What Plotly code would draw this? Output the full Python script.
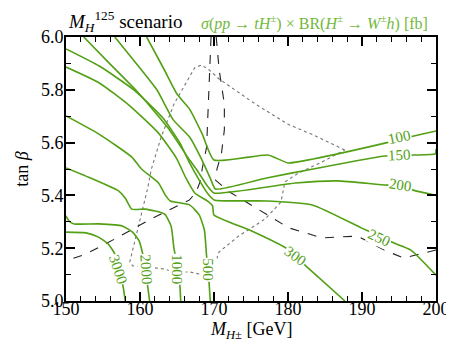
import plotly.graph_objects as go

GREEN = "#52a014"
LIGHT_GREEN = "#72b83a"
SERIF = "Liberation Serif"

# contour lines of sigma x BR [fb]
c100_x = [160.9, 163.3, 165.0, 166.7, 168.4, 170.0, 177.3, 180.0, 183.4, 193.1, 197.0, 200.0]
c100_y = [6.0, 5.875, 5.784, 5.727, 5.633, 5.534, 5.553, 5.523, 5.538, 5.598, 5.625, 5.644]

c150_x = [156.6, 160.2, 162.3, 164.5, 166.7, 168.7, 169.6, 170.2, 177.1, 183.4, 193.1, 197.0, 199.9, 200.0]
c150_y = [6.0, 5.875, 5.799, 5.686, 5.621, 5.515, 5.458, 5.424, 5.466, 5.500, 5.549, 5.553, 5.557, 5.576]

c200_x = [152.4, 155.8, 159.8, 163.8, 166.7, 167.6, 169.1, 170.0, 181.0, 186.7, 193.4, 195.2, 196.9, 200.0]
c200_y = [6.0, 5.902, 5.788, 5.655, 5.534, 5.5, 5.436, 5.409, 5.447, 5.455, 5.439, 5.439, 5.420, 5.40]

c250_x = [150.0, 154.5, 159.2, 163.1, 165.4, 166.7, 168.0, 169.2, 170.0, 177.1, 183.3, 189.9, 192.3, 194.3, 196.6, 200.0]
c250_y = [5.955, 5.89, 5.799, 5.693, 5.598, 5.523, 5.458, 5.405, 5.383, 5.379, 5.364, 5.277, 5.246, 5.220, 5.193, 5.098]

c300_x = [150.0, 154.5, 158.5, 162.5, 164.9, 166.2, 167.4, 169.1, 169.8, 170.0, 174.8, 179.7, 182.4, 187.7]
c300_y = [5.886, 5.826, 5.742, 5.636, 5.542, 5.466, 5.409, 5.379, 5.360, 5.326, 5.269, 5.201, 5.133, 5.0]

c500_x = [150.0, 154.4, 158.9, 160.2, 162.5, 163.4, 164.1, 166.7, 168.0, 168.7, 169.0, 169.2, 169.5]
c500_y = [5.701, 5.633, 5.545, 5.5, 5.447, 5.402, 5.379, 5.364, 5.326, 5.269, 5.170, 5.121, 5.0]

c1000_x = [150.0, 152.7, 157.1, 158.0, 158.9, 160.7, 163.3, 164.2, 164.6, 165.3, 165.5]
c1000_y = [5.504, 5.473, 5.417, 5.390, 5.348, 5.348, 5.330, 5.284, 5.197, 5.095, 5.0]

c2000_x = [150.0, 150.4, 151.1, 154.4, 157.6, 159.0, 159.9, 160.3, 160.8, 161.0, 161.3]
c2000_y = [5.322, 5.303, 5.292, 5.292, 5.284, 5.261, 5.227, 5.186, 5.12, 5.064, 5.0]

c3000_x = [150.0, 152.7, 154.4, 155.7, 156.6, 157.0, 157.7, 158.0]
c3000_y = [5.261, 5.258, 5.242, 5.216, 5.178, 5.12, 5.057, 5.0]

# dashed black lines
dashA_x = [169.6, 169.4, 169.1, 169.0, 168.4, 168.2, 167.6, 166.7, 161.5, 156.6, 152.7, 150.0]
dashA_y = [6.0, 5.875, 5.686, 5.583, 5.5, 5.458, 5.413, 5.383, 5.311, 5.235, 5.178, 5.152]

dashB_x = [170.3, 170.7, 171.4, 171.4, 171.0, 170.4, 170.2, 172.1, 175.7, 180.1, 184.6, 189.4, 193.0, 195.6, 200.0]
dashB_y = [6.0, 5.875, 5.746, 5.648, 5.557, 5.5, 5.458, 5.413, 5.352, 5.277, 5.239, 5.246, 5.193, 5.163, 5.193]

# dotted grey region
dot_x = [187.67, 183.42, 179.97, 175.60, 170.69, 169.36, 168.30, 167.37, 166.45, 164.59, 162.86,
         161.54, 161.01, 160.34, 159.68, 159.02, 158.62, 159.02, 161.01, 163.26, 164.59, 166.71,
         168.70, 169.63, 170.03, 170.69, 173.34, 176.92, 179.05, 179.58, 181.43, 184.35, 187.67]
dot_y = [5.572, 5.629, 5.670, 5.746, 5.841, 5.875, 5.894, 5.883, 5.837, 5.746, 5.621,
         5.5, 5.424, 5.348, 5.273, 5.197, 5.148, 5.133, 5.129, 5.121, 5.110, 5.110,
         5.098, 5.110, 5.133, 5.186, 5.246, 5.311, 5.375, 5.451, 5.485, 5.523, 5.572]

# inline contour labels
label_text = ["100", "150", "200", "250", "300", "500", "1000", "2000", "3000"]
label_x = [195.1, 195.1, 195.2, 192.4, 181.0, 169.2, 165.0, 160.8, 157.0]
label_y = [5.62, 5.553, 5.44, 5.24, 5.17, 5.12, 5.12, 5.12, 5.12]
label_angle = [-12, -3, 8, 25, 35, 90, 90, 86, 72]

contours = [
    (c100_x, c100_y), (c150_x, c150_y), (c200_x, c200_y), (c250_x, c250_y),
    (c300_x, c300_y), (c500_x, c500_y), (c1000_x, c1000_y), (c2000_x, c2000_y),
    (c3000_x, c3000_y),
]

fig = go.Figure()

fig.add_trace(go.Scatter(x=dot_x, y=dot_y, mode="lines",
                         line=dict(color="#777777", width=1.1, dash="dot"),
                         hoverinfo="skip", showlegend=False))
for xs, ys in [(dashA_x, dashA_y), (dashB_x, dashB_y)]:
    fig.add_trace(go.Scatter(x=xs, y=ys, mode="lines",
                             line=dict(color="#222222", width=1.1, dash="dash"),
                             hoverinfo="skip", showlegend=False))
for xs, ys in contours:
    fig.add_trace(go.Scatter(x=xs, y=ys, mode="lines",
                             line=dict(color=GREEN, width=1.6, shape="spline", smoothing=0.5),
                             hoverinfo="skip", showlegend=False))

for t, x, y, a in zip(label_text, label_x, label_y, label_angle):
    fig.add_annotation(x=x, y=y, text=t, showarrow=False, textangle=a,
                       bgcolor="white", borderpad=0,
                       font=dict(family=SERIF, size=15, color=GREEN))

fig.add_annotation(xref="paper", yref="paper", x=0.0, y=1.06, xanchor="left", yanchor="middle",
                   text="<i>M</i><sub><i>H</i></sub><sup>125</sup> scenario", showarrow=False,
                   font=dict(family=SERIF, size=19, color="black"))
fig.add_annotation(xref="paper", yref="paper", x=0.985, y=1.055, xanchor="right", yanchor="middle",
                   text="<i>σ</i>(<i>pp</i> → <i>tH</i><sup>±</sup>) × BR(<i>H</i><sup>±</sup> → <i>W</i><sup>±</sup><i>h</i>) [fb]",
                   showarrow=False, font=dict(family=SERIF, size=16, color=LIGHT_GREEN))

# x axis title as annotation so it stays inside the page
fig.add_annotation(xref="paper", yref="paper", x=0.5, y=-0.112, xanchor="center", yanchor="middle",
                   text="<i>M</i><sub><i>H</i>±</sub> [GeV]", showarrow=False,
                   font=dict(family=SERIF, size=18, color="black"))

axis_common = dict(
    showgrid=False, zeroline=False, showline=True, linecolor="black", linewidth=2,
    mirror="allticks", ticks="inside", ticklen=9, tickwidth=2, tickcolor="black",
    layer="above traces",
    tickfont=dict(family=SERIF, size=18, color="black"),
)

fig.update_xaxes(range=[150, 200], dtick=10, tick0=150, ticklabelstandoff=-10,
                 minor=dict(ticks="inside", dtick=2, ticklen=5, tickwidth=1.2, tickcolor="black"),
                 **axis_common)
fig.update_yaxes(range=[5.0, 6.0], dtick=0.2, tick0=5.0, tickformat=".1f", ticklabelstandoff=-3,
                 minor=dict(ticks="inside", dtick=0.1, ticklen=5, tickwidth=1.2, tickcolor="black"),
                 title=dict(text="tan <i>β</i>", standoff=8,
                            font=dict(family=SERIF, size=18, color="black")),
                 **axis_common)

fig.update_layout(
    width=454, height=346,
    margin=dict(l=56, r=21, t=29, b=53),
    plot_bgcolor="white", paper_bgcolor="white",
)

fig.write_html("out.html")
